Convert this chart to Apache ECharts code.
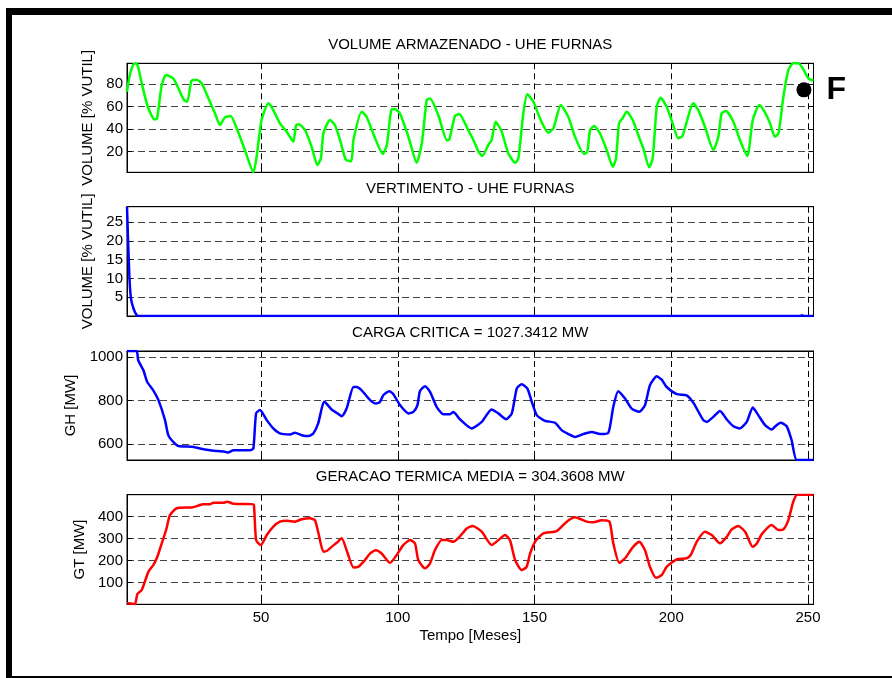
<!DOCTYPE html>
<html>
<head>
<meta charset="utf-8">
<script src="https://cdn.jsdelivr.net/npm/echarts@6/dist/echarts.min.js"></script>
<style>html,body{margin:0;padding:0;background:#fff;}#c{width:892px;height:678px;}</style>
</head>
<body>
<div id="c"></div>
<script>
// ---------- data ----------
const titles = ['VOLUME ARMAZENADO - UHE FURNAS', 'VERTIMENTO - UHE FURNAS', 'CARGA CRITICA = 1027.3412 MW', 'GERACAO TERMICA MEDIA = 304.3608 MW'];
const yNames = ['VOLUME [% VUTIL]', 'VOLUME [% VUTIL]', 'GH [MW]', 'GT [MW]'];
const xName = 'Tempo [Meses]';
const xTicks = [50, 100, 150, 200, 250];
const yTicks1 = [20, 40, 60, 80];
const yTicks2 = [5, 10, 15, 20, 25];
const yTicks3 = [600, 800, 1000];
const yTicks4 = [100, 200, 300, 400];

const volX = [1,2,3.3,4.3,5,6.4,8.4,11,12,13.7,15.3,17.9,19.8,21.8,23,24.6,26.5,28.3,30.8,33.2,35,36.8,38.9,41.1,44.1,47.2,48.4,50.2,52.7,54.5,56.9,59.4,61.8,62.8,63.8,66.1,68.5,70.6,71.9,72.8,75.2,77,78.9,81,83,83.8,86.8,88.6,91.7,94.5,96,97.8,99,100.8,103.9,106.9,108.8,110.6,111.8,114.8,118,118.9,120.9,122.5,125.5,128.2,129.5,130.9,133.1,134.3,135.8,138,140.4,142.9,144.1,145.9,147.4,149.6,152,155,156.9,159.6,162.4,164.8,168.1,169.3,170.3,171.8,173.9,176.4,178.6,179.8,180.9,182.2,183.7,185.9,188.6,189.8,191.9,193.2,194.7,196.1,198.3,200.5,202.6,204.1,208.1,209.9,212.3,215.4,217.2,218.4,220,222.7,225.1,227.8,229.8,232.2,234.3,236.1,237.9,239.2,241,242.8,244.6,246.5,248.3,250.1,252];
const volY = [73.3,88,97.5,98.6,96,80.8,61.5,48.8,49.5,79.3,88.2,85.2,76.3,66,64.5,83,84,80.8,67.4,54,43.7,50.5,51.7,40.8,21.5,1.8,15.6,48.2,63,57,45.2,37.8,28.9,43.7,44.5,39.3,24.4,8.2,14.1,36.3,48.2,43.7,30.4,13,11.5,30.4,55.6,51.1,31.9,18,26,57.7,57.7,54,33.3,10.2,27.5,66,67.4,52.6,30,31,51.7,53.5,40.5,27.5,20,16.2,26,30.4,46.7,37.8,18.6,10.2,14.1,54,71,64.4,49.7,36.9,40.8,61.5,50.6,33.3,18,20,39.3,42.8,36.4,21.5,6.7,14,45.2,49.8,55.6,48.2,30.4,23,6.1,14.1,60,68,60,45.2,31.9,34,63,57,42.2,21.5,33.3,54,56.2,46.7,30.4,16.2,48.2,61.5,54.7,45.2,33.3,36.3,68.9,92.6,98.6,98.6,93.2,85.2,83.1];

const vertX = [1,1.9,2.7,5.2,247,247.8,248.6,252];
const vertY = [29.1,10,3.7,0,0,0.2,0,0];

const ghX = [1,4.5,5.1,7,8.4,10.6,12.5,14.9,16.1,17.9,19.8,24.7,27.7,31.4,33.8,36.8,38,39.9,46,47.2,48.2,49.6,52.1,54.5,56.9,60.6,62.4,64.9,67.3,69.1,70.9,73,73.6,75.8,77.7,79.5,81.3,83.8,85,86.8,89.9,92,93.5,94.7,96.9,98.4,100.8,103.9,105.7,107.2,108.1,110,111.8,114.2,116.7,119.1,120.3,122.8,127,130.7,134.3,136.8,139.6,141.7,143.5,145.3,147.4,149,150.8,153.8,157.5,159.9,162.4,164.8,167.8,170.9,174,177,178.8,180.6,183.1,185.5,188.3,190.4,192.2,194.7,196.5,198.3,202,205.6,208.1,211.7,213,215.4,217.8,220.3,222.7,225.1,227.6,229.8,231.8,234.3,236.7,238.5,240,242.2,244,245.9,252];
const ghY = [1027,1027,985,939,885,847,802,710,641,610,591,588,580,572,568,565,561,572,572,580,741,756,710,672,649,644,652,641,637,649,695,794,790,759,743,728,763,862,862,847,802,786,794,824,843,829,779,741,748,779,843,866,840,771,737,737,747,713,672,702,759,741,714,741,855,875,855,794,733,707,698,664,646,633,646,656,646,652,771,843,809,763,748,779,870,911,896,862,829,824,789,710,702,725,752,713,682,672,702,768,733,687,667,687,698,682,618,527,527];

const gtX = [1,2.5,3.9,4.8,6.4,8.8,10.6,12.1,13.7,15.3,16.7,19.2,24.7,26.5,28.9,31.4,32.6,36.2,37.7,39.9,46.6,47.4,48.2,49.9,52.1,54.5,56.9,59.4,62.4,64.9,67.9,69.7,71,72.8,74,75.8,77.7,79.5,81.3,83.8,85.6,88,89.9,92,94.1,97.2,99.6,102,104.5,106.3,107.5,110,111.8,113.6,116.1,117.9,120.3,122.8,125.2,127.4,130.7,134.3,136.8,139.2,141,142.9,145.3,147.1,148.4,150.2,153.2,158.1,161.8,164.8,169.1,171.5,174.6,177.4,178.8,181,183.1,185.9,188.3,190.4,192.2,194.4,196.5,198.3,202,205.6,207.1,209.3,212.3,214.8,217.8,220.3,222.1,224.5,227,229.8,231.3,233.1,236.7,239.2,241,242.8,244.6,246.1,252];
const gtY = [5,4,0,47,65,148,179,217,278,339,407,438,442,448,457,457,463,463,468,459,457,453,293,270,316,354,377,381,377,388,392,384,324,240,243,262,281,301,247,168,171,202,232,247,232,189,225,270,293,278,202,164,187,247,293,293,285,311,346,357,331,270,293,316,293,202,156,171,232,285,324,334,377,397,377,374,384,377,278,189,210,260,285,247,171,121,133,171,205,210,225,285,331,316,278,308,342,357,331,262,278,320,362,339,342,384,468,500,500];

const markerX = [248.5];
const markerY = [75];
const markerLabel = 'F';

// ---------- layout ----------
const FONT = 'Liberation Sans, Arial, sans-serif';
const LEFT = 127, WIDTH = 686.5;
const gridBoxes = [
  {top: 63.3, height: 109},
  {top: 206.7, height: 109.3},
  {top: 351, height: 109},
  {top: 494.7, height: 109.6}
];
const yRanges = [[1.7, 98.6], [0, 29.1], [527, 1027.34], [0, 500]];
const yTickSets = [yTicks1, yTicks2, yTicks3, yTicks4];
const yNameGaps = [30, 30, 47, 39];
const titleY = [45, 189, 333.3, 476.7];

const pairs = (xs, ys) => xs.map((x, i) => [x, ys[i]]);
const plain = v => String(v);

const grid = gridBoxes.map(g => ({
  left: LEFT, width: WIDTH, top: g.top, height: g.height,
  show: true, borderColor: '#000', borderWidth: 1, backgroundColor: 'transparent',
  containLabel: false, outerBoundsMode: 'none'
}));

const dashV = {show: true, lineStyle: {color: '#000', width: 1, type: [6, 4]}};
const dashH = {show: true, lineStyle: {color: '#444', width: 1, type: [7, 4]}};

const xAxis = [], yAxis = [];
gridBoxes.forEach((g, i) => {
  xAxis.push({
    type: 'value', gridIndex: i, min: 1, max: 252, position: 'bottom',
    axisLine: {show: true, onZero: false, lineStyle: {color: '#000', width: 1}},
    axisTick: {show: true, inside: true, length: 5, customValues: xTicks, lineStyle: {color: '#000'}},
    axisLabel: {show: i === 3, customValues: xTicks, formatter: plain, margin: 6, color: '#000', fontSize: 15, fontFamily: FONT},
    splitLine: dashV,
    name: i === 3 ? xName : '', nameLocation: 'middle', nameGap: 24,
    nameTextStyle: {color: '#000', fontSize: 15, fontFamily: FONT}
  });
  xAxis.push({
    type: 'value', gridIndex: i, min: 1, max: 252, position: 'top',
    axisLine: {show: true, onZero: false, lineStyle: {color: '#000', width: 1}},
    axisTick: {show: true, inside: true, length: 5, customValues: xTicks, lineStyle: {color: '#000'}},
    axisLabel: {show: false}, splitLine: {show: false}
  });
  yAxis.push({
    type: 'value', gridIndex: i, min: yRanges[i][0], max: yRanges[i][1], position: 'left',
    axisLine: {show: true, onZero: false, lineStyle: {color: '#000', width: 1}},
    axisTick: {show: true, inside: true, length: 5, customValues: yTickSets[i], lineStyle: {color: '#000'}},
    axisLabel: {show: true, customValues: yTickSets[i], formatter: plain, margin: 4, color: '#000', fontSize: 15, fontFamily: FONT},
    splitLine: dashH,
    name: yNames[i], nameLocation: 'middle', nameRotate: 90, nameGap: yNameGaps[i],
    nameTextStyle: {color: '#000', fontSize: 15, fontFamily: FONT}
  });
  yAxis.push({
    type: 'value', gridIndex: i, min: yRanges[i][0], max: yRanges[i][1], position: 'right',
    axisLine: {show: true, onZero: false, lineStyle: {color: '#000', width: 1}},
    axisTick: {show: true, inside: true, length: 5, customValues: yTickSets[i], lineStyle: {color: '#000'}},
    axisLabel: {show: false}, splitLine: {show: false}
  });
});

const lineSeries = (i, xs, ys, color) => ({
  type: 'line', xAxisIndex: 2 * i, yAxisIndex: 2 * i, data: pairs(xs, ys),
  showSymbol: false, symbol: 'none', smooth: 0.2, clip: true,
  lineStyle: {color: color, width: 2.5}, z: 5
});

const series = [
  lineSeries(0, volX, volY, '#00ff00'),
  lineSeries(1, vertX, vertY, '#0000ff'),
  lineSeries(2, ghX, ghY, '#0000ff'),
  lineSeries(3, gtX, gtY, '#ff0000'),
  {
    type: 'scatter', xAxisIndex: 0, yAxisIndex: 0, data: pairs(markerX, markerY),
    symbol: 'circle', symbolSize: 15, itemStyle: {color: '#000', opacity: 1}, z: 6, clip: false,
    label: {show: true, formatter: markerLabel, position: 'right', distance: 15, opacity: 1,
      color: '#000', fontSize: 32, fontWeight: 'bold', fontFamily: FONT, textBorderWidth: 0}
  }
];

const graphic = [
  {type: 'rect', shape: {x: 6, y: 8, width: 886, height: 7}, style: {fill: '#000'}, silent: true},
  {type: 'rect', shape: {x: 6, y: 8, width: 6, height: 670}, style: {fill: '#000'}, silent: true},
  {type: 'rect', shape: {x: 6, y: 676, width: 886, height: 2}, style: {fill: '#000'}, silent: true}
].concat(titles.map((t, i) => ({
  type: 'text', x: LEFT + WIDTH / 2, y: titleY[i], silent: true,
  style: {text: t, fill: '#000', font: '15px ' + FONT, textAlign: 'center', textVerticalAlign: 'middle'}
})));

const chart = echarts.init(document.getElementById('c'), null, {renderer: 'canvas'});
chart.setOption({
  animation: false,
  backgroundColor: '#fff',
  grid: grid, xAxis: xAxis, yAxis: yAxis, series: series, graphic: graphic
});
</script>
</body>
</html>
